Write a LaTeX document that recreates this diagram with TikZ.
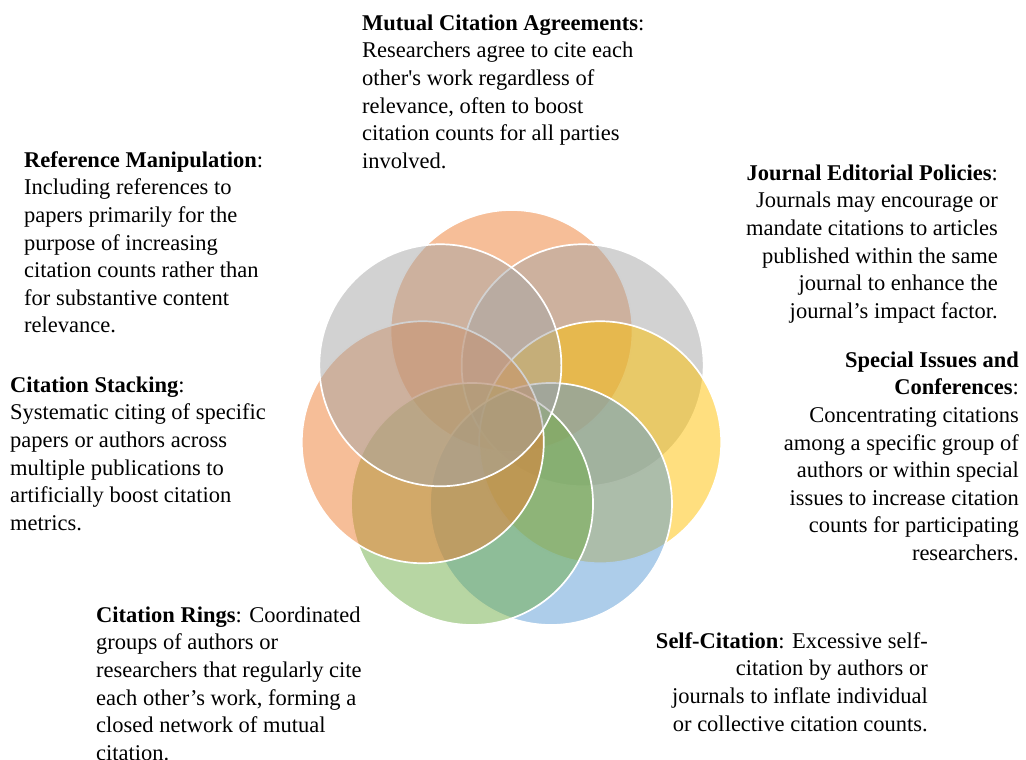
\documentclass[tikz,border=0pt]{standalone}
\usepackage{fontspec}
\setmainfont{Liberation Serif}
\usetikzlibrary{calc}
\definecolor{cOrange}{HTML}{ED7D31}
\definecolor{cGray}{HTML}{A5A5A5}
\definecolor{cGold}{HTML}{FFC000}
\definecolor{cBlue}{HTML}{5B9BD5}
\definecolor{cGreen}{HTML}{70AD47}
\begin{document}
\begin{tikzpicture}[x=1pt,y=-1pt,
  petal/.style={circle, inner sep=0pt, minimum size=242pt, draw=white, line width=1.7pt, fill opacity=0.5, draw opacity=1},
  desc/.style={inner sep=0pt, font=\fontsize{22.5}{27.6}\selectfont},
  lblock/.style={desc, align=left, anchor=north west},
  rblock/.style={desc, align=right, anchor=north east}]
\useasboundingbox (0,0) rectangle (1026,760);
\coordinate (ctr) at (511.5,422);
\foreach \ang/\col/\nm in {90/cOrange/p1, 38.57/cGray/p2, -12.86/cGold/p3, -64.29/cBlue/p4, -115.71/cGreen/p5, -167.14/cOrange/p6, 141.43/cGray/p7}{
  \node[petal, fill=\col] (\nm) at ($(ctr)+({91*cos(\ang)},{-91*sin(\ang)})$) {};
}
\newcommand{\fl}{\rule{0pt}{20pt}}
\node[lblock] (mutual) at (362,10) {\fl\textbf{Mutual Citation Agreements}:\\Researchers agree to cite each\\other\textquotesingle s work regardless of\\relevance, often to boost\\citation counts for all parties\\involved.};
\node[lblock] (refman) at (24,147) {\fl\textbf{Reference Manipulation}:\\Including references to\\papers primarily for the\\purpose of increasing\\citation counts rather than\\for substantive content\\relevance.};
\node[lblock] (stack) at (10,372) {\fl\textbf{Citation Stacking}:\\Systematic citing of specific\\papers or authors across\\multiple publications to\\artificially boost citation\\metrics.};
\node[lblock] (rings) at (96,602) {\fl\textbf{Citation Rings}: Coordinated\\groups of authors or\\researchers that regularly cite\\each other’s work, forming a\\closed network of mutual\\citation.};
\node[rblock] (journal) at (998,160) {\fl\textbf{Journal Editorial Policies}:\\Journals may encourage or\\mandate citations to articles\\published within the same\\journal to enhance the\\journal’s impact factor.};
\node[rblock] (special) at (1019,347) {\fl\textbf{Special Issues and}\\\textbf{Conferences}:\\Concentrating citations\\among a specific group of\\authors or within special\\issues to increase citation\\counts for participating\\researchers.};
\node[rblock] (self) at (928,628) {\fl\textbf{Self-Citation}: Excessive self-\\citation by authors or\\journals to inflate individual\\or collective citation counts.};
\end{tikzpicture}
\end{document}
